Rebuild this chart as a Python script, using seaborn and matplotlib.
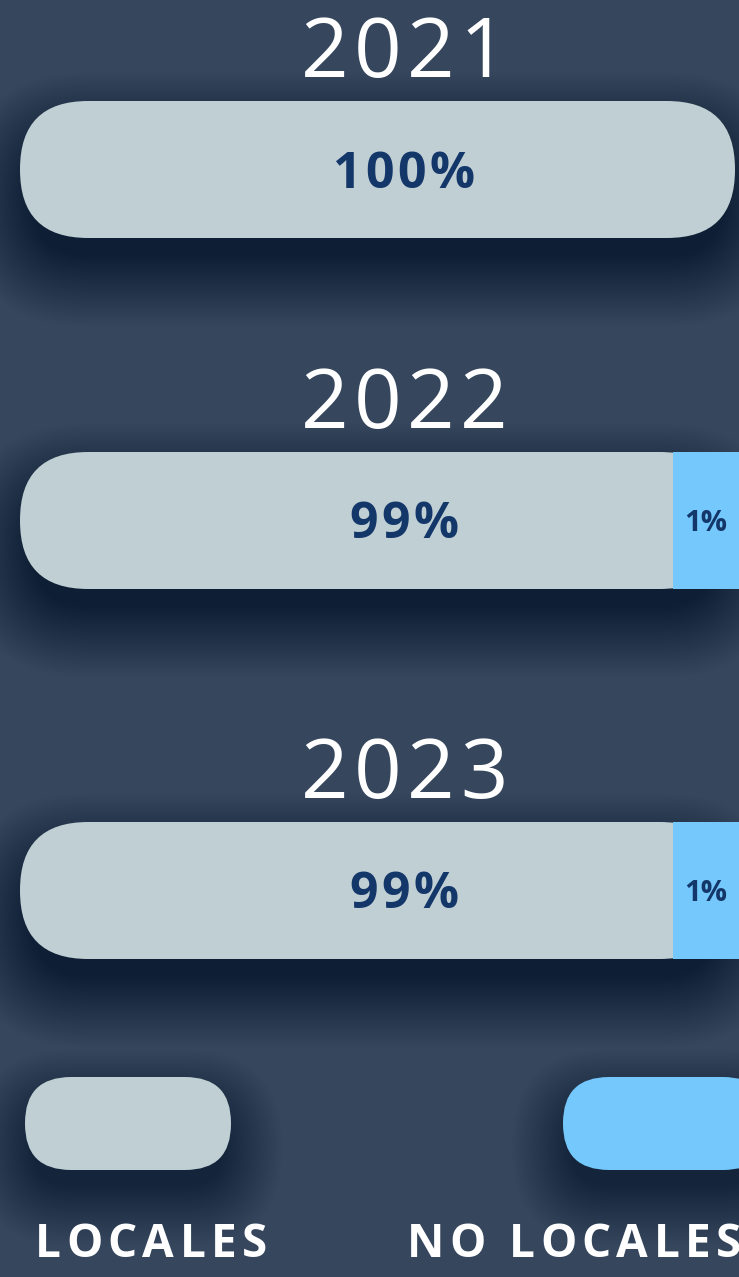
import numpy as np
import pandas as pd
import matplotlib
matplotlib.use("Agg")
import matplotlib.pyplot as plt
from matplotlib.patches import FancyBboxPatch
from matplotlib.transforms import IdentityTransform
import seaborn as sns

# ─── Data ─────────────────────────────────────────────────────────────────────
YEARS = ["2021", "2022", "2023"]
LOCALES = [100, 99, 99]
NO_LOCALES = [0, 1, 1]
LEGEND_LABELS = ["LOCALES", "NO LOCALES"]

# ─── Style ────────────────────────────────────────────────────────────────────
BG = "#36465c"
GREY = "#c0cfd3"
BLUE = "#74c8fb"
NAVY = "#14376a"
SHADOW = "#07090e"

W, H = 739, 1277                 # output size in px (dpi 100)
BAR_LEFT, BAR_RIGHT = 20, 735
BAR_TOPS = [101, 452, 822]
BAR_H = 137
RADIUS = 68
MIN_SEG = 8.7                    # smallest share drawn, in %
TEXT_X = 404

sns.set_theme(style="white")
plt.rcParams["font.family"] = ["Open Sans", "DejaVu Sans"]

fig = plt.figure(figsize=(W / 100, H / 100), dpi=100, facecolor=BG)
renderer = fig.canvas.get_renderer()


def px(y_top):
    # pixel row from the top -> display y
    return H - y_top


def text_width(s, **kw):
    if not s:
        return 0.0
    tmp = fig.text(0, 0, s, **kw)
    w = tmp.get_window_extent(renderer).width
    tmp.remove()
    return w


def tracked_text(x, y, s, track, ha="center", **kw):
    # letter-spaced text, one glyph at a time (matplotlib has no tracking)
    total = text_width(s, **kw) + track * (len(s) - 1)
    x0 = x - total / 2 if ha == "center" else x
    for i, ch in enumerate(s):
        if ch == " ":
            continue
        fig.text((x0 + text_width(s[:i], **kw) + i * track) / W, y / H, ch,
                 ha="left", va="baseline", **kw)


def soft_shadow(x0, y0, w, h, r, drop=30, inset=12, layers=40, step=1.8,
                alpha=0.011):
    for k in range(layers):
        e = k * step - inset
        fig.add_artist(FancyBboxPatch(
            (x0 - e, y0 - drop - e), w + 2 * e, h + 2 * e,
            boxstyle=f"round,pad=0,rounding_size={max(r + e, 1)}",
            transform=IdentityTransform(), fc=SHADOW, ec="none",
            alpha=alpha, zorder=-1))


def pill(x0, y0, w, h, r, color, zorder=1):
    return FancyBboxPatch((x0, y0), w, h,
                          boxstyle=f"round,pad=0,rounding_size={r}",
                          transform=IdentityTransform(), fc=color, ec="none",
                          clip_on=False, zorder=zorder)


# ─── Bars ─────────────────────────────────────────────────────────────────────
for i, year in enumerate(YEARS):
    top = BAR_TOPS[i]
    ax = fig.add_axes([BAR_LEFT / W, 1 - (top + BAR_H) / H,
                       (BAR_RIGHT - BAR_LEFT) / W, BAR_H / H])
    ax.set_facecolor("none")
    df = pd.DataFrame({"year": [year], "share": [LOCALES[i]]})
    sns.barplot(data=df, x="share", y="year", orient="h", color=GREY,
                width=1, saturation=1, linewidth=0, ax=ax)
    ax.set_xlim(0, 100)
    ax.set_ylim(0.5, -0.5)
    ax.axis("off")

    # swap the square seaborn bar for a rounded one
    rect = ax.patches[0]
    bb = rect.get_window_extent()
    rect.remove()
    soft_shadow(bb.x0, bb.y0, bb.width, bb.height, RADIUS)
    ax.add_patch(pill(bb.x0, bb.y0, bb.width, bb.height, RADIUS, GREY))

    if NO_LOCALES[i] > 0:
        shown = max(NO_LOCALES[i], MIN_SEG)
        ax.barh(0, shown + 1, left=100 - shown, height=1, color=BLUE,
                linewidth=0, clip_on=False, zorder=3)
        ax.text(100 - shown + (shown + 1) / 2 - 0.3, 0.08, f"{NO_LOCALES[i]}%",
                ha="center", va="baseline", fontsize=21, fontweight="bold",
                color=NAVY, zorder=4)

    # year title and main share
    tracked_text(TEXT_X, px(top - 24), year, 5.5, fontsize=60, color="white")
    tracked_text(TEXT_X, px(top + BAR_H / 2 + 18), f"{LOCALES[i]}%", 3.5,
                 fontsize=36, fontweight="bold", color=NAVY)

# ─── Legend ───────────────────────────────────────────────────────────────────
LEG_TOP, LEG_H, LEG_W, LEG_R = 1077, 93, 206, 46
leg_x = [25, 563]
lab_x = [35, 407]
for x0, lx, color, label in zip(leg_x, lab_x, [GREY, BLUE], LEGEND_LABELS):
    y0 = px(LEG_TOP + LEG_H)
    soft_shadow(x0, y0, LEG_W, LEG_H, LEG_R, drop=24, inset=8, layers=34)
    fig.add_artist(pill(x0, y0, LEG_W, LEG_H, LEG_R, color))
    tracked_text(lx, px(1257), label, 5.5, ha="left",
                 fontsize=33, fontweight="bold", color="white")

fig.savefig("out.png", dpi=100, facecolor=BG)
